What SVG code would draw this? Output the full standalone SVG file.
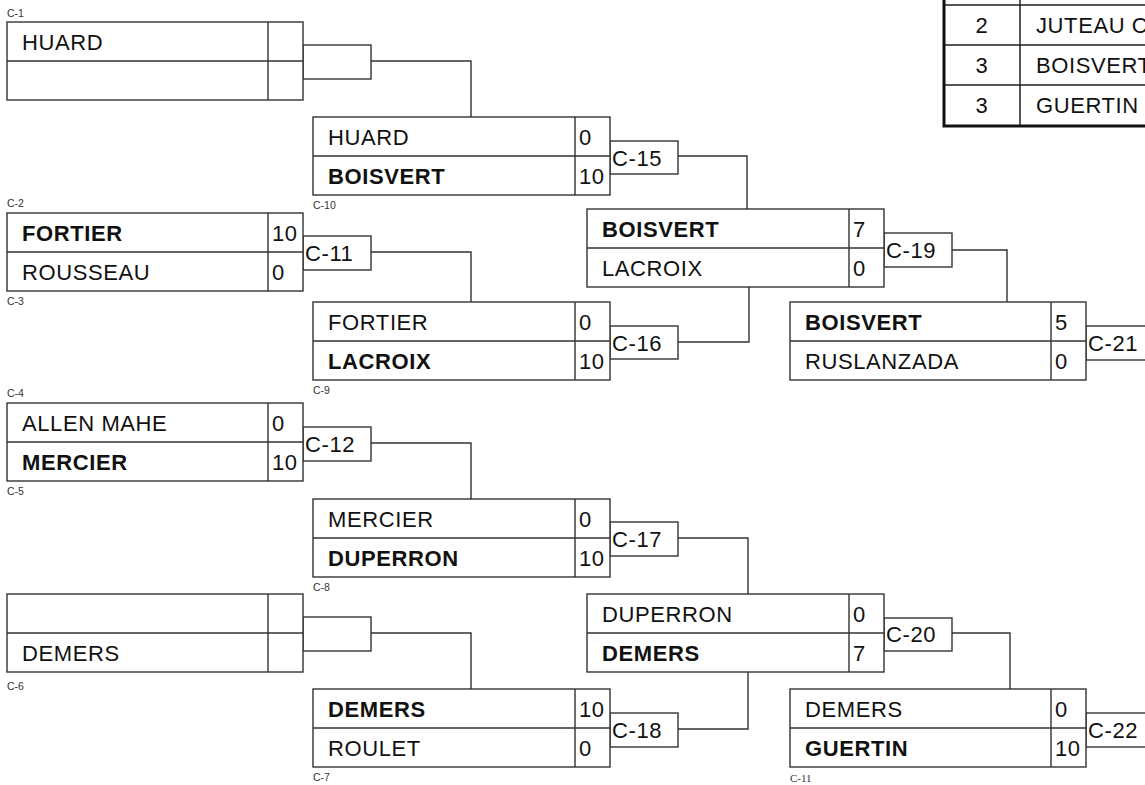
<svg xmlns="http://www.w3.org/2000/svg" width="1145" height="785" viewBox="0 0 1145 785">
<style>
.box{fill:#fff;stroke:#333;stroke-width:1.4}
.ln{fill:none;stroke:#333;stroke-width:1.4}
.cb{fill:#fff;stroke:#333;stroke-width:1.4}
.t{font-family:"Liberation Sans",Arial,sans-serif;font-size:22px;letter-spacing:0.6px;fill:#111}
.b{font-weight:bold}
.s{font-family:"Liberation Sans",Arial,sans-serif;font-size:10.5px;fill:#333}
.sf{font-family:"Liberation Serif","Times New Roman",serif;font-size:11px;fill:#333}
.tb{fill:none;stroke:#111;stroke-width:3}
.tl{fill:none;stroke:#222;stroke-width:1.5}
</style>
<rect width="1145" height="785" fill="#fff"/>

<g id="connectors">
<path class="ln" d="M371,61 H471 V117"/>
<path class="ln" d="M371,252 H471 V302"/>
<path class="ln" d="M371,443 H471 V499"/>
<path class="ln" d="M371,633 H471 V689"/>
<path class="ln" d="M678,156 H747 V209"/>
<path class="ln" d="M678,342 H749 V287"/>
<path class="ln" d="M678,538 H748 V594"/>
<path class="ln" d="M678,729 H748 V672"/>
<path class="ln" d="M952,250 H1007 V302"/>
<path class="ln" d="M952,633 H1010 V689"/>
<rect class="cb" x="303" y="45" width="68" height="34"/>
<rect class="cb" x="303" y="236" width="68" height="34"/>
<text class="t" x="305" y="261">C-11</text>
<rect class="cb" x="303" y="427" width="68" height="34"/>
<text class="t" x="305" y="452">C-12</text>
<rect class="cb" x="303" y="617" width="68" height="34"/>
<rect class="cb" x="610" y="141" width="68" height="33"/>
<text class="t" x="612" y="166">C-15</text>
<rect class="cb" x="610" y="326" width="68" height="33"/>
<text class="t" x="612" y="351">C-16</text>
<rect class="cb" x="610" y="522" width="68" height="34"/>
<text class="t" x="612" y="547">C-17</text>
<rect class="cb" x="610" y="713" width="68" height="34"/>
<text class="t" x="612" y="738">C-18</text>
<rect class="cb" x="884" y="233" width="68" height="34"/>
<text class="t" x="886" y="258">C-19</text>
<rect class="cb" x="884" y="618" width="68" height="33"/>
<text class="t" x="886" y="642">C-20</text>
<rect class="cb" x="1086" y="326" width="68" height="34"/>
<text class="t" x="1088" y="351">C-21</text>
<rect class="cb" x="1086" y="713" width="68" height="34"/>
<text class="t" x="1088" y="738">C-22</text>
</g>

<g id="m-c1">
<rect class="box" x="7" y="22" width="296" height="78"/>
<path class="ln" d="M7,61 H303 M268,22 V100"/>
<text class="t" x="22" y="49.5">HUARD</text>
<text class="s" x="7" y="17">C-1</text>
</g>
<g id="m-c2">
<rect class="box" x="7" y="213" width="296" height="78"/>
<path class="ln" d="M7,252 H303 M268,213 V291"/>
<text class="t b" x="22" y="240.5">FORTIER</text>
<text class="t" x="22" y="279.5">ROUSSEAU</text>
<text class="t" x="272" y="240.5">10</text>
<text class="t" x="272" y="279.5">0</text>
<text class="s" x="7" y="207">C-2</text>
<text class="s" x="7" y="305">C-3</text>
</g>
<g id="m-c4">
<rect class="box" x="7" y="403" width="296" height="78"/>
<path class="ln" d="M7,442 H303 M268,403 V481"/>
<text class="t" x="22" y="430.5">ALLEN MAHE</text>
<text class="t b" x="22" y="469.5">MERCIER</text>
<text class="t" x="272" y="430.5">0</text>
<text class="t" x="272" y="469.5">10</text>
<text class="s" x="7" y="397">C-4</text>
<text class="s" x="7" y="495">C-5</text>
</g>
<g id="m-c6">
<rect class="box" x="7" y="594" width="296" height="78"/>
<path class="ln" d="M7,633 H303 M268,594 V672"/>
<text class="t" x="22" y="660.5">DEMERS</text>
<text class="s" x="7" y="690">C-6</text>
</g>

<g id="m-c10">
<rect class="box" x="313" y="117" width="297" height="78"/>
<path class="ln" d="M313,156 H610 M575,117 V195"/>
<text class="t" x="328" y="144.5">HUARD</text>
<text class="t b" x="328" y="183.5">BOISVERT</text>
<text class="t" x="579" y="144.5">0</text>
<text class="t" x="579" y="183.5">10</text>
<text class="s" x="313" y="209">C-10</text>
</g>
<g id="m-c9">
<rect class="box" x="313" y="302" width="297" height="78"/>
<path class="ln" d="M313,341 H610 M575,302 V380"/>
<text class="t" x="328" y="329.5">FORTIER</text>
<text class="t b" x="328" y="368.5">LACROIX</text>
<text class="t" x="579" y="329.5">0</text>
<text class="t" x="579" y="368.5">10</text>
<text class="s" x="313" y="394">C-9</text>
</g>
<g id="m-c8">
<rect class="box" x="313" y="499" width="297" height="78"/>
<path class="ln" d="M313,538 H610 M575,499 V577"/>
<text class="t" x="328" y="526.5">MERCIER</text>
<text class="t b" x="328" y="565.5">DUPERRON</text>
<text class="t" x="579" y="526.5">0</text>
<text class="t" x="579" y="565.5">10</text>
<text class="s" x="313" y="591">C-8</text>
</g>
<g id="m-c7">
<rect class="box" x="313" y="689" width="297" height="78"/>
<path class="ln" d="M313,728 H610 M575,689 V767"/>
<text class="t b" x="328" y="716.5">DEMERS</text>
<text class="t" x="328" y="755.5">ROULET</text>
<text class="t" x="579" y="716.5">10</text>
<text class="t" x="579" y="755.5">0</text>
<text class="s" x="313" y="781">C-7</text>
</g>

<g id="m-sf1">
<rect class="box" x="587" y="209" width="297" height="78"/>
<path class="ln" d="M587,248 H884 M849,209 V287"/>
<text class="t b" x="602" y="236.5">BOISVERT</text>
<text class="t" x="602" y="275.5">LACROIX</text>
<text class="t" x="853" y="236.5">7</text>
<text class="t" x="853" y="275.5">0</text>
</g>
<g id="m-sf2">
<rect class="box" x="587" y="594" width="297" height="78"/>
<path class="ln" d="M587,633 H884 M849,594 V672"/>
<text class="t" x="602" y="621.5">DUPERRON</text>
<text class="t b" x="602" y="660.5">DEMERS</text>
<text class="t" x="853" y="621.5">0</text>
<text class="t" x="853" y="660.5">7</text>
</g>

<g id="m-f1">
<rect class="box" x="790" y="302" width="296" height="78"/>
<path class="ln" d="M790,341 H1086 M1051,302 V380"/>
<text class="t b" x="805" y="329.5">BOISVERT</text>
<text class="t" x="805" y="368.5">RUSLANZADA</text>
<text class="t" x="1055" y="329.5">5</text>
<text class="t" x="1055" y="368.5">0</text>
</g>
<g id="m-c11">
<rect class="box" x="790" y="689" width="296" height="78"/>
<path class="ln" d="M790,728 H1086 M1051,689 V767"/>
<text class="t" x="805" y="716.5">DEMERS</text>
<text class="t b" x="805" y="755.5">GUERTIN</text>
<text class="t" x="1055" y="716.5">0</text>
<text class="t" x="1055" y="755.5">10</text>
<text class="sf" x="790" y="782">C-11</text>
</g>

<g id="ranking">
<rect x="944" y="-40" width="300" height="166" fill="#fff"/>
<path class="tl" d="M944,5 H1145 M944,45 H1145 M944,85 H1145 M1020,-40 V126"/>
<rect class="tb" x="944" y="-40" width="300" height="166"/>
<text class="t" x="982" y="33" text-anchor="middle">2</text>
<text class="t" x="1036" y="33">JUTEAU C</text>
<text class="t" x="982" y="73" text-anchor="middle">3</text>
<text class="t" x="1036" y="73">BOISVERT</text>
<text class="t" x="982" y="113" text-anchor="middle">3</text>
<text class="t" x="1036" y="113">GUERTIN</text>
</g>
</svg>
